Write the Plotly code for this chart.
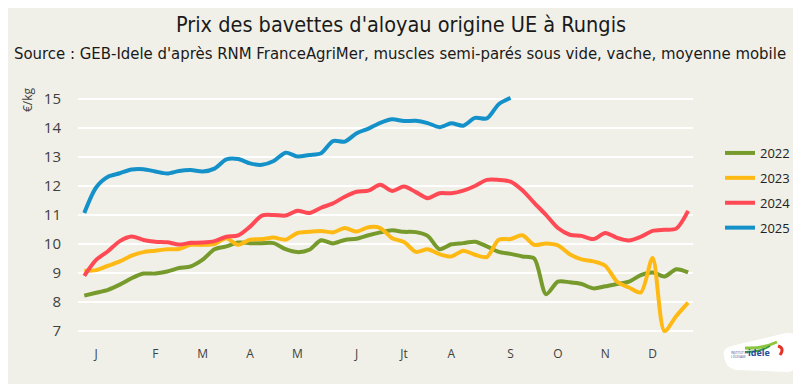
import plotly.graph_objects as go

# ---------------- data ----------------
weeks = list(range(1, 53))
month_ticks = [2, 7, 11, 15, 19, 24, 28, 32, 37, 41, 45, 49]
month_labels = ["J", "F", "M", "A", "M", "J", "Jt", "A", "S", "O", "N", "D"]

s2022 = [8.22, 8.32, 8.42, 8.60, 8.82, 8.98, 8.98, 9.05, 9.17, 9.23,
         9.46, 9.82, 9.92, 10.05, 10.03, 10.03, 10.03, 9.82, 9.72, 9.80,
         10.13, 10.02, 10.14, 10.18, 10.30, 10.40, 10.47, 10.42, 10.41, 10.28,
         9.82, 9.99, 10.03, 10.08, 9.92, 9.73, 9.66, 9.57, 9.50, 8.27,
         8.70, 8.68, 8.62, 8.47, 8.54, 8.62, 8.70, 8.93, 9.02, 8.88,
         9.13, 9.02]
s2023 = [9.08, 9.10, 9.25, 9.40, 9.60, 9.72, 9.77, 9.82, 9.83, 9.97,
         9.97, 10.00, 10.20, 9.97, 10.15, 10.17, 10.22, 10.15, 10.38, 10.42,
         10.45, 10.40, 10.55, 10.43, 10.58, 10.55, 10.20, 10.07, 9.73, 9.82,
         9.65, 9.57, 9.77, 9.63, 9.55, 10.15, 10.17, 10.30, 9.97, 10.02,
         9.95, 9.65, 9.47, 9.40, 9.25, 8.70, 8.50, 8.33, 9.52, 7.00,
         7.52, 7.98]
s2024 = [8.90, 9.45, 9.75, 10.10, 10.26, 10.14, 10.08, 10.06, 9.98, 10.04,
         10.05, 10.10, 10.25, 10.30, 10.60, 10.98, 11.00, 10.98, 11.15, 11.07,
         11.25, 11.40, 11.63, 11.80, 11.84, 12.04, 11.83, 11.98, 11.79, 11.58,
         11.75, 11.75, 11.84, 12.00, 12.21, 12.21, 12.15, 11.85, 11.42, 11.00,
         10.55, 10.32, 10.28, 10.17, 10.38, 10.21, 10.12, 10.25, 10.45, 10.49,
         10.53, 11.14]
s2025 = [11.07, 11.95, 12.32, 12.44, 12.57, 12.58, 12.50, 12.43, 12.52, 12.55,
         12.50, 12.60, 12.92, 12.93, 12.78, 12.73, 12.86, 13.15, 13.02, 13.07,
         13.13, 13.55, 13.53, 13.82, 13.98, 14.18, 14.30, 14.24, 14.25, 14.17,
         14.03, 14.16, 14.08, 14.35, 14.33, 14.82, 15.04]

series = [("2022", s2022, "#779a2c"),
          ("2023", s2023, "#ffb914"),
          ("2024", s2024, "#ff4a55"),
          ("2025", s2025, "#1591c9")]

y_ticks = [7, 8, 9, 10, 11, 12, 13, 14, 15]

# ---------------- layout geometry ----------------
# the page body has an 8px margin, so the figure is 8px smaller
OFF = 8
W, H = 801 - OFF, 384 - OFF
PL, PR, PT, PB = 78, 693, 89, 339          # plot area in page pixels
L, R, T, B = PL - OFF, 801 - PR, PT - OFF, 384 - PB
PW, PH = PR - PL, PB - PT
BG = "#f0f0e8"


def px(x):
    return (x - PL) / PW


def py(y):
    return 1 - (y - PT) / PH


fig = go.Figure()
for name, vals, col in series:
    fig.add_trace(go.Scatter(
        x=weeks[:len(vals)], y=vals, name=name, mode="lines",
        line=dict(color=col, width=4, shape="spline", smoothing=0.8),
        legendgroup=name,
    ))

fig.update_layout(
    width=W, height=H,
    margin=dict(l=L, r=R, t=T, b=B, autoexpand=False),
    paper_bgcolor=BG, plot_bgcolor=BG,
    showlegend=True,
    legend=dict(x=px(720), y=py(138), xanchor="left", yanchor="top",
                font=dict(family="Open Sans", size=13, color="#222222"),
                bgcolor="rgba(0,0,0,0)", tracegroupgap=5,
                itemwidth=30),
    xaxis=dict(range=[0.47, 52.41], tickmode="array", tickvals=month_ticks,
               ticktext=month_labels, showgrid=False, zeroline=False,
               showline=False, ticks="", automargin=False,
               ticklabelstandoff=6,
               tickfont=dict(family="Open Sans", size=12, color="#404040")),
    yaxis=dict(range=[6.724, 15.345], tickmode="array", tickvals=y_ticks,
               showgrid=True, gridcolor="#ffffff", gridwidth=2,
               zeroline=False, showline=False, ticks="", automargin=False,
               ticklabelstandoff=16,
               tickfont=dict(family="Open Sans", size=15, color="#404040")),
)

cond = "DejaVu Sans Condensed, Liberation Sans Narrow, sans-serif"
fig.add_annotation(text="Prix des bavettes d'aloyau origine UE à Rungis",
                   xref="paper", yref="paper", x=px(401), y=py(24),
                   xanchor="center", yanchor="middle", showarrow=False,
                   font=dict(family=cond, size=21.5, color="#1a1a1a"))
fig.add_annotation(text="Source : GEB-Idele d'après RNM FranceAgriMer, muscles semi-parés sous vide, vache, moyenne mobile",
                   xref="paper", yref="paper", x=px(400), y=py(53),
                   xanchor="center", yanchor="middle", showarrow=False,
                   font=dict(family=cond, size=16.6, color="#1a1a1a"))
fig.add_annotation(text="€/kg", textangle=-90,
                   xref="paper", yref="paper", x=px(27), y=py(100),
                   xanchor="center", yanchor="middle", showarrow=False,
                   font=dict(family="Open Sans", size=12, color="#404040"))

# logo (approximate)
fig.add_shape(type="path", xref="paper", yref="paper",
              path=(f"M {px(724)} {py(356)} Q {px(722)} {py(349)} {px(731)} {py(346)} "
                    f"L {px(786)} {py(333)} Q {px(795)} {py(331)} {px(795)} {py(340)} "
                    f"L {px(795)} {py(365)} Q {px(795)} {py(372)} {px(787)} {py(372)} "
                    f"L {px(736)} {py(370)} Q {px(725)} {py(368)} {px(724)} {py(356)} Z"),
              fillcolor="#ffffff", line=dict(width=0), layer="above")
fig.add_shape(type="path", xref="paper", yref="paper",
              path=f"M {px(745)} {py(348)} Q {px(762)} {py(349)} {px(777)} {py(342)}",
              line=dict(color="#8cc63f", width=3), layer="above")
fig.add_shape(type="path", xref="paper", yref="paper",
              path=f"M {px(745)} {py(352)} Q {px(760)} {py(352)} {px(770)} {py(346)}",
              line=dict(color="#3a9a3a", width=2), layer="above")
fig.add_shape(type="path", xref="paper", yref="paper",
              path=f"M {px(778)} {py(346)} Q {px(785)} {py(348)} {px(780)} {py(355)}",
              line=dict(color="#e6332a", width=3), layer="above")
fig.add_annotation(text="<b>idele</b>", xref="paper", yref="paper",
                   x=px(772), y=py(361), showarrow=False,
                   font=dict(family="Open Sans", size=9, color="#1f4e9c"))
fig.add_annotation(text="INSTITUT DE<br>L'ÉLEVAGE", xref="paper", yref="paper",
                   x=px(751), y=py(361), showarrow=False, align="left",
                   font=dict(family="Open Sans", size=3, color="#1f4e9c"))

fig.write_html("out.html")
